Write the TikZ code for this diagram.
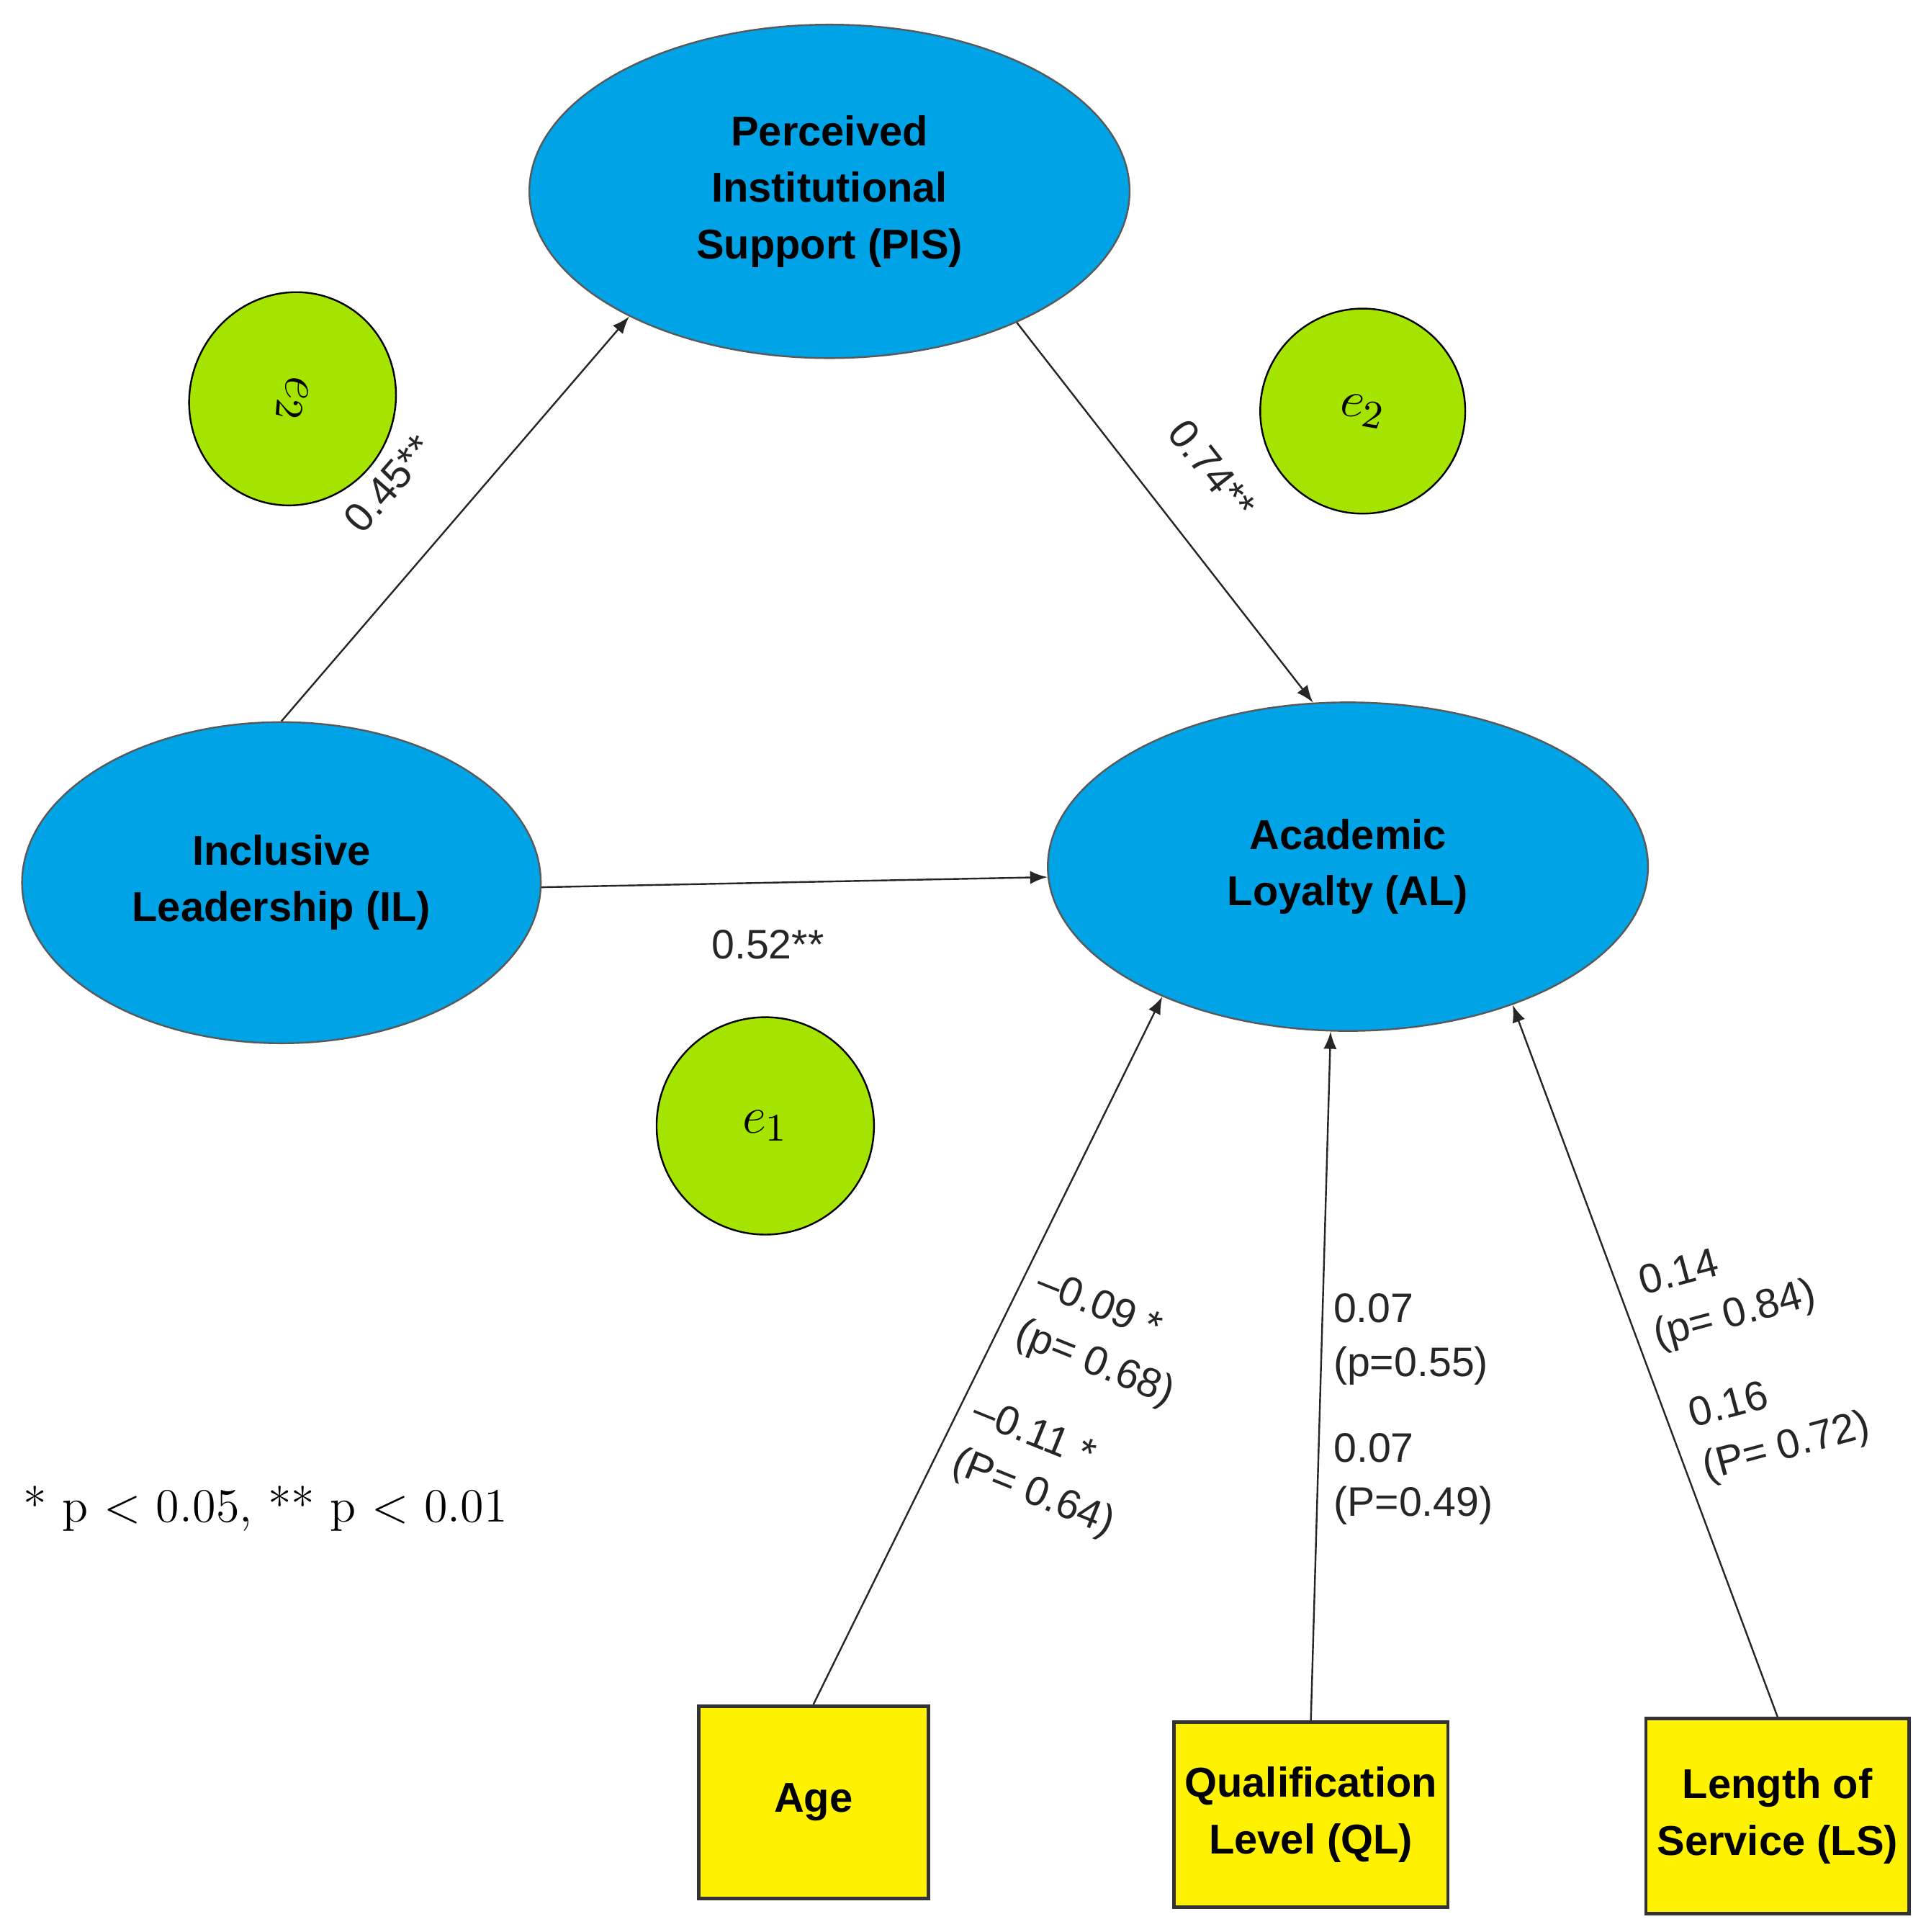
\documentclass[tikz,border=0pt]{standalone}
\usepackage{fontspec}
\setmainfont{Liberation Sans}
\usepackage{tikz}
\usetikzlibrary{shapes.geometric}
\definecolor{skyblue}{HTML}{00A3E6}
\definecolor{errgreen}{HTML}{A4E400}
\definecolor{boxyellow}{HTML}{FFF200}
\tikzset{
  latent/.style={ellipse, draw=gray!70!black, fill=skyblue, font=\bfseries\fontsize{9.6}{13}\selectfont, align=center, inner sep=0pt},
  err/.style={ellipse, draw=black, fill=errgreen, inner sep=0pt, font=\fontsize{13}{13}\selectfont},
  obs/.style={rectangle, draw=black!80, thick, fill=boxyellow, font=\bfseries\fontsize{9.6}{13}\selectfont, align=center, inner sep=0pt},
  path/.style={-latex, gray!30!black, thin},
  coef/.style={font=\fontsize{9.5}{12.5}\selectfont, text=gray!30!black, align=left, inner sep=1pt}
}
\begin{document}
\begin{tikzpicture}[x=0.01cm, y=-0.01cm]
\useasboundingbox (0,0) rectangle (1560,1565);
% latent variables
\node [latent, minimum width=4.86cm, minimum height=2.7cm] (PIS) at (672,155) {Perceived\\Institutional\\Support (PIS)};
\node [latent, minimum width=4.2cm, minimum height=2.6cm] (IL) at (228,715) {Inclusive\\Leadership (IL)};
\node [latent, minimum width=4.86cm, minimum height=2.66cm] (AL) at (1092,702) {Academic\\Loyalty (AL)};
%
\node [err, minimum width=1.66cm, minimum height=1.74cm, rotate=-25] (e2a) at (237,323) {\rotatebox{-70}{$e_2$}};
\node [err, minimum width=1.66cm, minimum height=1.66cm] (e2b) at (1104,333) {\rotatebox{-10}{$e_2$}};
\node [err, minimum width=1.76cm, minimum height=1.76cm] (e1) at (620,912) {$e_1$};
% controls
\node [obs, minimum width=1.86cm, minimum height=1.56cm] (Age) at (659,1460) {Age};
\node [obs, minimum width=2.22cm, minimum height=1.5cm] (QL) at (1062,1470) {Qualification\\Level (QL)};
\node [obs, minimum width=2.13cm, minimum height=1.58cm] (LS) at (1440,1471) {Length of\\Service (LS)};
% paths
\draw [path] (IL.90) -- (PIS.212);
\draw [path] (PIS.-35) -- (AL.102);
\draw [path] (IL.-1) -- (AL.182);
\draw [path] (Age.north) -- (AL.215);
\draw [path] (QL.north) -- (AL.264);
\draw [path] (LS.north) -- (AL.320);
% coefficients
\node [coef, rotate=49] (c1) at (315,392) {0.45**};
\node [coef, rotate=-52] (c2) at (982,380) {0.74**};
\node [coef] (c3) at (622,765) {0.52**};
\node [coef, rotate=-22] (c4) at (895,1085) {–0.09 *\\(p= 0.68)};
\node [coef, rotate=-22] (c5) at (845,1190) {–0.11 *\\(P= 0.64)};
\node [coef] (c6) at (1143,1085) {0.07\\(p=0.55)};
\node [coef] (c7) at (1145,1198) {0.07\\(P=0.49)};
\node [coef, rotate=15] (c8) at (1400,1045) {0.14\\(p= 0.84)};
\node [coef, rotate=15] (c9) at (1442,1152) {0.16\\(P= 0.72)};
%
\node [font=\fontfamily{lmr}\selectfont\fontsize{11}{13}\selectfont] (note) at (215,1222) {* p $<$ 0.05, ** p $<$ 0.01};
\end{tikzpicture}
\end{document}
